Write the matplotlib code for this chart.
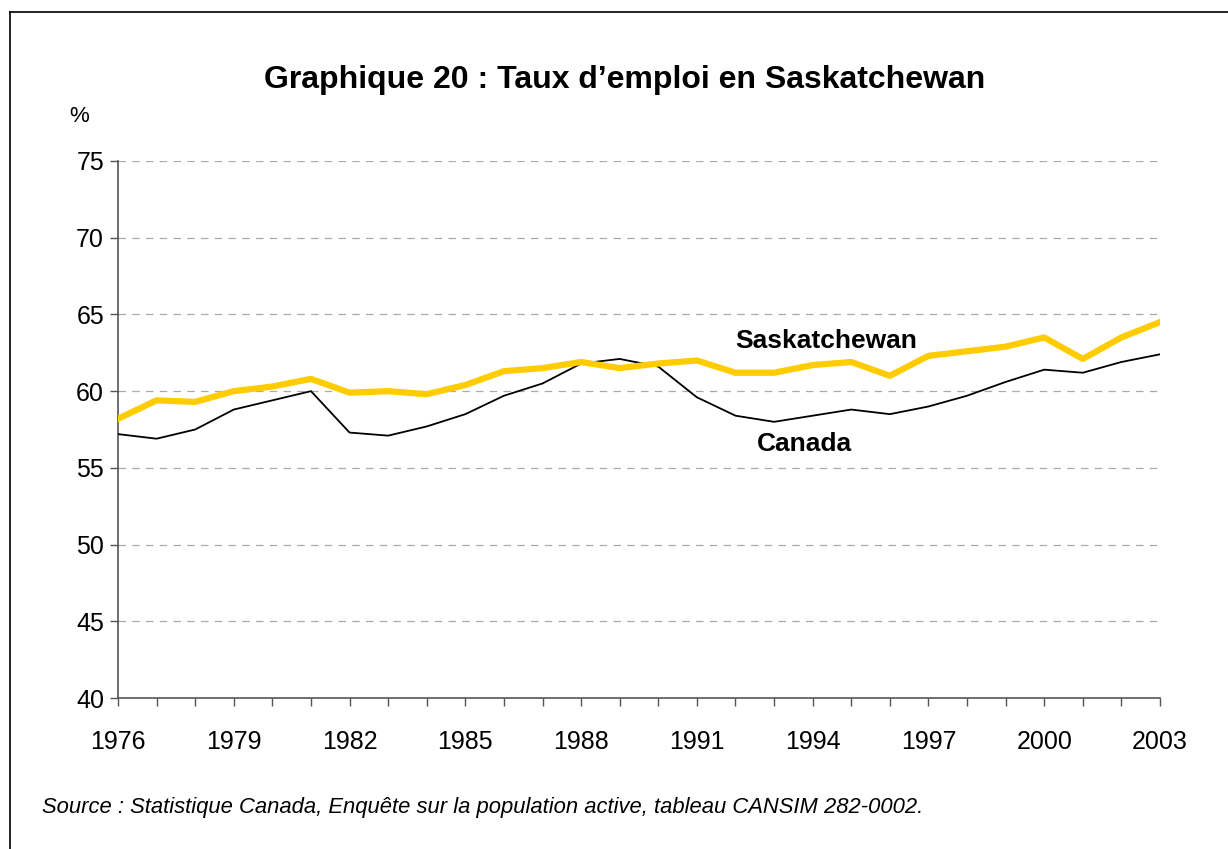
import matplotlib.pyplot as plt
from matplotlib.lines import Line2D

plt.rcParams['font.family'] = ['Liberation Sans', 'DejaVu Sans']

years = list(range(1976, 2004))
saskatchewan = [58.2, 59.4, 59.3, 60.0, 60.3, 60.8, 59.9, 60.0, 59.8, 60.4,
                61.3, 61.5, 61.9, 61.5, 61.8, 62.0, 61.2, 61.2, 61.7, 61.9,
                61.0, 62.3, 62.6, 62.9, 63.5, 62.1, 63.5, 64.5]
canada = [57.2, 56.9, 57.5, 58.8, 59.4, 60.0, 57.3, 57.1, 57.7, 58.5,
          59.7, 60.5, 61.8, 62.1, 61.6, 59.6, 58.4, 58.0, 58.4, 58.8,
          58.5, 59.0, 59.7, 60.6, 61.4, 61.2, 61.9, 62.4]
yticks = [40, 45, 50, 55, 60, 65, 70, 75]

fig = plt.figure(figsize=(12.28, 8.49), dpi=100)
ax = fig.add_axes([118/1228, 1 - 698/849, (1160 - 118)/1228, (698 - 161)/849])

ax.plot(years, canada, color='black', lw=1.3, zorder=3)
ax.plot(years, saskatchewan, color='#FFCC00', lw=4.5, zorder=4)

ax.set_xlim(1976, 2003)
ax.set_ylim(40, 75)
ax.set_yticks(yticks)
ax.set_xticks(years, minor=True)
ax.set_xticks(list(range(1976, 2004, 3)))
ax.tick_params(axis='both', which='both', direction='out', color='#555555',
               labelsize=18, length=6, width=1)
ax.tick_params(axis='x', which='major', pad=17)
ax.tick_params(axis='y', pad=4)

for v in yticks[1:]:
    ax.axhline(v, color='#aaaaaa', lw=0.9, ls=(0, (6, 5)), zorder=1)

for s in ['top', 'right']:
    ax.spines[s].set_visible(False)
for s in ['left', 'bottom']:
    ax.spines[s].set_color('#555555')
    ax.spines[s].set_linewidth(1.2)

fig.text(625/1228, 1 - 80/849, "Graphique 20 : Taux d\u2019emploi en Saskatchewan",
         ha='center', va='center', fontsize=23, fontweight='bold')
fig.text(79/1228, 1 - 116/849, '%', ha='center', va='center', fontsize=16)
ax.text(1992.0, 63.27, 'Saskatchewan', ha='left', va='center',
        fontsize=19, fontweight='bold')
ax.text(1992.56, 56.55, 'Canada', ha='left', va='center',
        fontsize=19, fontweight='bold')
fig.text(42/1228, 1 - 807/849,
         'Source : Statistique Canada, Enqu\u00eate sur la population active, tableau CANSIM 282-0002.',
         ha='left', va='center', fontsize=15.8, style='italic')

# frame around chart
fig.add_artist(Line2D([10/1228, 10/1228], [0, 1 - 12/849], transform=fig.transFigure,
                      color='black', lw=1.2))
fig.add_artist(Line2D([10/1228, 1], [1 - 12/849, 1 - 12/849], transform=fig.transFigure,
                      color='black', lw=1.2))

fig.savefig('out.png', dpi=100)
